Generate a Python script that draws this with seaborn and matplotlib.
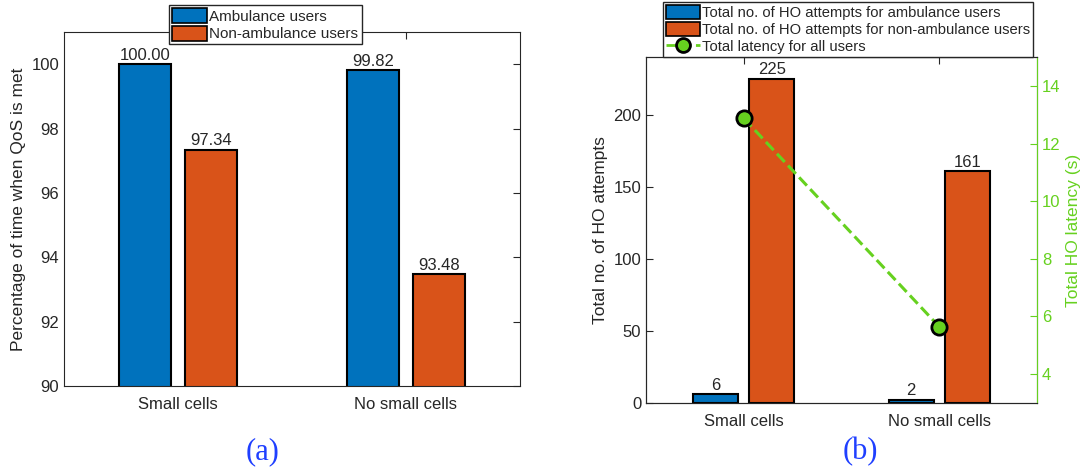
import numpy as np
import pandas as pd
import matplotlib
matplotlib.use("Agg")
import matplotlib.pyplot as plt
from matplotlib.patches import Patch
from matplotlib.lines import Line2D
import seaborn as sns

# data
categories = ['Small cells', 'No small cells']
series = ['Ambulance users', 'Non-ambulance users']
qos_amb = [100.00, 99.82]
qos_non = [97.34, 93.48]
ho_amb = [6, 2]
ho_non = [225, 161]
latency = [12.88, 5.64]

ho_labels = ['Total no. of HO attempts for ambulance users',
             'Total no. of HO attempts for non-ambulance users',
             'Total latency for all users']

blue = '#0072BD'
orange = '#D95319'
green = '#66D11F'
dark = '#262626'

sns.set_style('white')
plt.rcParams['font.family'] = ['Liberation Sans', 'DejaVu Sans']
plt.rcParams['axes.edgecolor'] = dark
plt.rcParams['xtick.color'] = dark
plt.rcParams['ytick.color'] = dark

W, H = 1089, 467
fig = plt.figure(figsize=(W / 100, H / 100), dpi=100)

qos = pd.DataFrame({'cat': categories * 2,
                    'users': [series[0]] * 2 + [series[1]] * 2,
                    'val': qos_amb + qos_non})
ho = pd.DataFrame({'cat': categories * 2,
                   'users': [series[0]] * 2 + [series[1]] * 2,
                   'val': ho_amb + ho_non})

##(a) QoS percentage
ax1 = fig.add_axes([64 / W, (H - 386) / H, 456 / W, (386 - 32) / H])
sns.barplot(data=qos, x='cat', y='val', hue='users', palette=[blue, orange],
            saturation=1, width=0.572, gap=0.2, edgecolor='black', linewidth=1.5,
            legend=False, ax=ax1)
ax1.set_ylim(90, 101)
ax1.set_xlim(-0.5, 1.5)
ax1.set_yticks([90, 92, 94, 96, 98, 100])
ax1.set_xlabel('')
ax1.set_ylabel('Percentage of time when QoS is met', fontsize=12.5, color=dark)
for c in ax1.containers:
    ax1.bar_label(c, fmt='%.2f', fontsize=12, padding=1)
ax1.tick_params(direction='in', top=True, right=True, labelsize=12, length=5)
ax1.tick_params(axis='x', pad=8)
for s in ax1.spines.values():
    s.set_linewidth(0.8)
ax1.legend(handles=[Patch(facecolor=blue, edgecolor='black', linewidth=1.2),
                    Patch(facecolor=orange, edgecolor='black', linewidth=1.2)],
           labels=series, loc='upper left', bbox_to_anchor=(169 / W, 1 - 5 / H),
           bbox_transform=fig.transFigure, fontsize=11, fancybox=False,
           edgecolor=dark, framealpha=1, borderpad=0.2, labelspacing=0.15,
           handlelength=2.3, handleheight=1.1, handletextpad=0.15, borderaxespad=0)

##(b) HO attempts + latency
ax2 = fig.add_axes([646 / W, (H - 402.7) / H, 391 / W, (402.7 - 57.3) / H])
sns.barplot(data=ho, x='cat', y='val', hue='users', palette=[blue, orange],
            saturation=1, width=0.572, gap=0.2, edgecolor='black', linewidth=1.5,
            legend=False, ax=ax2)
ax2.set_ylim(0, 240)
ax2.set_xlim(-0.5, 1.5)
ax2.set_yticks([0, 50, 100, 150, 200])
ax2.set_xlabel('')
ax2.set_ylabel('Total no. of HO attempts', fontsize=12.5, color=dark)
for c in ax2.containers:
    ax2.bar_label(c, fmt='%d', fontsize=12, padding=1)
ax2.tick_params(direction='in', top=True, labelsize=12, length=5)
ax2.tick_params(axis='x', pad=8)
for s in ax2.spines.values():
    s.set_linewidth(0.8)

ax3 = ax2.twinx()
sns.lineplot(x=[0, 1], y=latency, ax=ax3, color=green, linestyle='--',
             linewidth=2.2, marker='o', markersize=11, markerfacecolor=green,
             markeredgecolor='black', markeredgewidth=2)
ax3.set_ylim(3, 15)
ax3.set_yticks([4, 6, 8, 10, 12, 14])
ax3.set_ylabel('Total HO latency (s)', fontsize=12.5, color=green)
ax3.tick_params(axis='y', direction='in', colors=green, labelsize=12, length=5)
for s in ax3.spines.values():
    s.set_linewidth(0.8)
ax3.spines['right'].set_color(green)

ax3.legend(handles=[Patch(facecolor=blue, edgecolor='black', linewidth=1.2),
                    Patch(facecolor=orange, edgecolor='black', linewidth=1.2),
                    Line2D([], [], color=green, linestyle='--', linewidth=2,
                           marker='o', markersize=10, markerfacecolor=green,
                           markeredgecolor='black', markeredgewidth=2)],
           labels=ho_labels, loc='upper left', bbox_to_anchor=(663 / W, 1 - 2 / H),
           bbox_transform=fig.transFigure, fontsize=10.6, fancybox=False,
           edgecolor=dark, framealpha=1, borderpad=0.2, labelspacing=0.12,
           handlelength=2.3, handleheight=1.1, handletextpad=0.15, borderaxespad=0)

fig.text(263 / W, 1 - 452 / H, '(a)', ha='center', va='center', fontsize=22,
         family='Liberation Serif', color='#1f3fff')
fig.text(860 / W, 1 - 452 / H, '(b)', ha='center', va='center', fontsize=22,
         family='Liberation Serif', color='#1f3fff')

fig.savefig('out.png', dpi=100)
